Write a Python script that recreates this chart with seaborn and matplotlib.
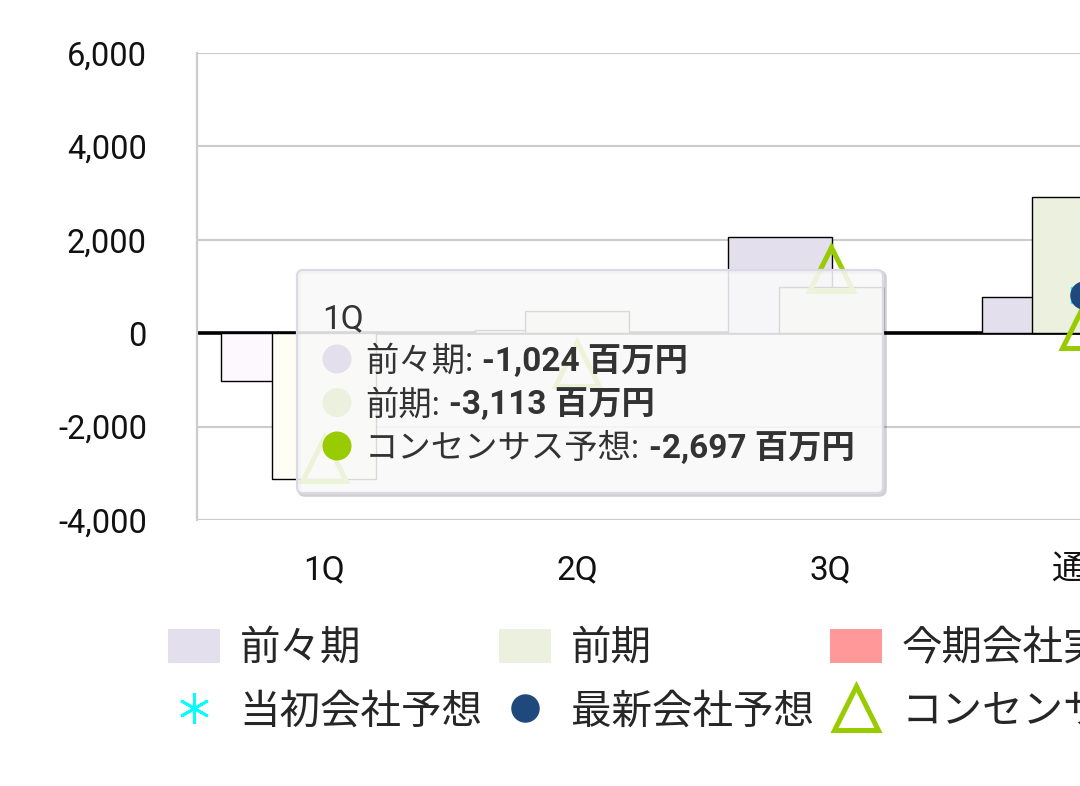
import numpy as np
import matplotlib
matplotlib.use("Agg")
import matplotlib.pyplot as plt
import matplotlib.transforms as mtransforms
import seaborn as sns
from matplotlib.patches import FancyBboxPatch, Circle, Patch
from matplotlib.lines import Line2D
from matplotlib.font_manager import FontProperties
from matplotlib.ticker import FuncFormatter

# ---- data ----
categories = ["1Q", "2Q", "3Q", "通期"]
zenzenki = [-1024, 60, 2060, 780]                 # 前々期
zenki = [-3113, 480, 1000, 2920]                  # 前期
initial_forecast = [np.nan, np.nan, np.nan, 820]  # 当初会社予想
latest_forecast = [np.nan, np.nan, np.nan, 820]   # 最新会社予想
consensus = [-2697, -660, 1370, 150]              # コンセンサス予想
y_ticks = [-4000, -2000, 0, 2000, 4000, 6000]

hover = 0  # 1Q is hovered -> tooltip
tooltip_rows = [("前々期", zenzenki[hover]), ("前期", zenki[hover]),
                ("コンセンサス予想", consensus[hover])]

C_ZZ = "#e4dfec"
C_Z = "#ebf1de"
C_NOW = "#ff9999"
C_INIT = "#00ffff"
C_LATEST = "#1f497d"
C_CONS = "#99cc00"

sns.set_theme(style="white")
plt.rcParams["font.family"] = ["Roboto", "Noto Sans CJK JP", "DejaVu Sans"]

W, H = 1080, 786
fig = plt.figure(figsize=(W / 100, H / 100), dpi=100)
# axes runs past the right edge of the picture, like the reference crop
ax = fig.add_axes([197 / W, 1 - 520 / H, (1211 - 197) / W, (520 - 53) / H])

x = np.arange(len(categories))
off, bw = 0.2, 0.41
sns.barplot(x=x - off, y=zenzenki, native_scale=True, width=bw, color=C_ZZ,
            saturation=1, edgecolor="black", linewidth=1, errorbar=None,
            ax=ax, zorder=3)
sns.barplot(x=x, y=zenki, native_scale=True, width=bw, color=C_Z,
            saturation=1, edgecolor="black", linewidth=1, errorbar=None,
            ax=ax, zorder=3)
# hovered category is drawn brighter
ax.containers[0][hover].set_facecolor("#fdf8fd")
ax.containers[1][hover].set_facecolor("#fefef5")

ax.axhline(0, color="black", lw=2.6, zorder=2)

ax.plot(x, consensus, ls="none", marker="^", ms=31, mfc="none",
        mec=C_CONS, mew=3.6, zorder=5)
ax.plot(x, initial_forecast, ls="none", marker=(6, 2, 0), ms=22,
        mec=C_INIT, mew=2, zorder=6)
ax.plot(x, latest_forecast, ls="none", marker="o", ms=19.5,
        mfc=C_LATEST, mec=C_LATEST, zorder=7)

ax.set_xlim(-0.5, 3.5)
ax.set_ylim(-4000, 6000)
ax.set_yticks(y_ticks)
ax.yaxis.set_major_formatter(FuncFormatter(lambda v, p: f"{v:,.0f}"))
ax.set_xticks(x, categories)
ax.set_xlabel("")
ax.set_ylabel("")
ax.yaxis.grid(True, color="#cccccc", lw=1.5)
ax.xaxis.grid(False)
ax.set_axisbelow(True)
for s in ["top", "right", "bottom"]:
    ax.spines[s].set_visible(False)
ax.spines["left"].set_color("#cccccc")
ax.spines["left"].set_linewidth(1.6)
ax.tick_params(axis="y", length=0, labelsize=23.5, pad=36, labelcolor="#111111")
ax.tick_params(axis="x", length=0, labelsize=24, pad=25, labelcolor="#111111")

# ---- tooltip (pixel coordinates, origin bottom-left) ----
px = mtransforms.Affine2D().scale(1 / fig.dpi) + fig.dpi_scale_trans

shadow = FancyBboxPatch((299, H - 495), 586, 223,
                        boxstyle="round,pad=0,rounding_size=6",
                        fc="none", ec=(0, 0, 0, 0.18), lw=2.6,
                        transform=px, zorder=9)
box = FancyBboxPatch((297, H - 493), 586, 223,
                     boxstyle="round,pad=0,rounding_size=6",
                     fc=(0.975, 0.975, 0.975, 0.87), ec="#dcd9e6", lw=1.6,
                     transform=px, zorder=10)
fig.add_artist(shadow)
fig.add_artist(box)

fig.text(322, H - 328, categories[hover], transform=px, fontsize=24,
         color="#333333", va="baseline", ha="left", zorder=11)

renderer = fig.canvas.get_renderer()
dot_colors = [C_ZZ, C_Z, C_CONS]
for i, (name, val) in enumerate(tooltip_rows):
    cy = 359 + i * 43.5
    fig.add_artist(Circle((337, H - cy), 14.5, transform=px, fc=dot_colors[i],
                          ec="none", zorder=11))
    base = H - (cy + 12)
    t1 = fig.text(365, base, f"{name}:", transform=px, fontsize=24,
                  color="#333333", va="baseline", ha="left", zorder=11)
    bb = t1.get_window_extent(renderer)
    fig.text(bb.x1 + 9, base, f"{val:,} 百万円", transform=px, fontsize=24,
             color="#333333", fontweight="bold", va="baseline", ha="left",
             zorder=11)

# ---- legend ----
handles = [
    Patch(fc=C_ZZ, ec="none"),
    Line2D([], [], ls="none", marker=(6, 2, 0), ms=22, mec=C_INIT, mew=2),
    Patch(fc=C_Z, ec="none"),
    Line2D([], [], ls="none", marker="o", ms=19.5, mfc=C_LATEST, mec=C_LATEST),
    Patch(fc=C_NOW, ec="none"),
    Line2D([], [], ls="none", marker="^", ms=31, mfc="none", mec=C_CONS, mew=3.6),
]
labels = ["前々期", "当初会社予想", "前期", "最新会社予想", "今期会社実績", "コンセンサス予想"]
fig.legend(handles, labels, ncol=3, loc="upper left",
           bbox_to_anchor=(168 / W, 1 - 628 / H), frameon=False,
           borderpad=0, borderaxespad=0, handlelength=1.28, handleheight=0.94,
           handletextpad=0.49, columnspacing=0.40, labelspacing=0.55,
           numpoints=1, prop=FontProperties(family="Noto Sans CJK JP", size=29.2))

fig.savefig("out.png", dpi=100)
